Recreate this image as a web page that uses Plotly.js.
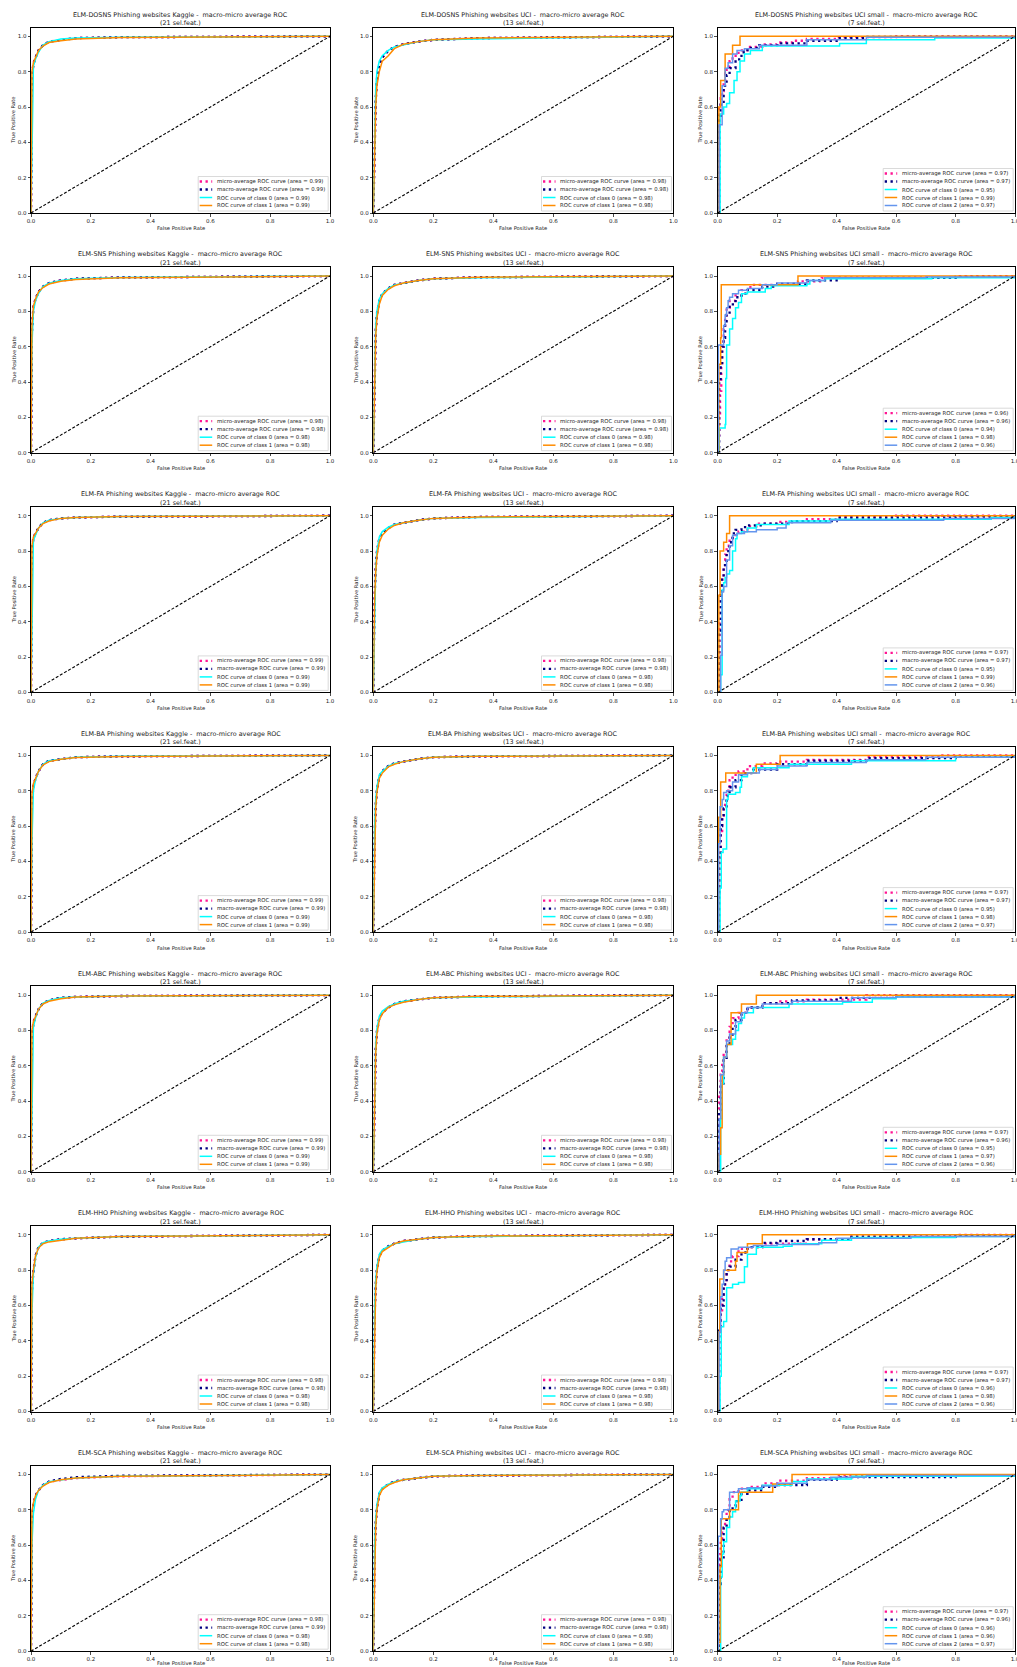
<!DOCTYPE html>
<html>
<head>
<meta charset="utf-8">
<script src="https://cdn.plot.ly/plotly-3.0.1.min.js"></script>
<style>html,body{margin:0;padding:0;background:#fff;}#chart{width:1017px;height:1667px;}</style>
</head>
<body>
<div id="chart"></div>
<script>
// ---------------- DATA ----------------
const methods = ['DOSNS', 'SNS', 'FA', 'BA', 'ABC', 'HHO', 'SCA'];
const datasets = ['Kaggle', 'UCI', 'UCI small'];
const selFeat = [21, 13, 7];
const curveNames = ['micro-average ROC curve', 'macro-average ROC curve', 'ROC curve of class 0', 'ROC curve of class 1', 'ROC curve of class 2'];
const tickVals = [0, 0.2, 0.4, 0.6, 0.8, 1.0];
const chanceLine = [0, 1];

// areas [micro, macro, class0, class1, (class2)]
const areaKaggle = [[0.99,0.99,0.99,0.99],[0.98,0.98,0.98,0.98],[0.99,0.99,0.99,0.99],[0.99,0.99,0.99,0.99],[0.99,0.99,0.99,0.99],[0.98,0.98,0.98,0.98],[0.98,0.99,0.98,0.98]];
const areaUCI = [[0.98,0.98,0.98,0.98],[0.98,0.98,0.98,0.98],[0.98,0.98,0.98,0.98],[0.98,0.98,0.98,0.98],[0.98,0.98,0.98,0.98],[0.98,0.98,0.98,0.98],[0.98,0.98,0.98,0.98]];
const areaSmall = [[0.97,0.97,0.95,0.99,0.97],[0.96,0.96,0.94,0.98,0.96],[0.97,0.97,0.95,0.99,0.96],[0.97,0.97,0.95,0.98,0.97],[0.97,0.96,0.95,0.97,0.96],[0.97,0.97,0.96,0.98,0.96],[0.97,0.96,0.96,0.96,0.97]];

// Kaggle (21 sel. feat.) – FPR points and TPR read at them [micro, macro, class0, class1]
const fprKaggle = [0, 0.003, 0.008, 0.015, 0.025, 0.04, 0.06, 0.1, 0.15, 0.3, 1];
const tprKaggleDOSNS = [[0,0.78,0.85,0.88,0.92,0.95,0.97,0.98,0.99,0.995,1],[0,0.76,0.84,0.88,0.92,0.95,0.97,0.98,0.99,0.995,1],[0,0.35,0.83,0.87,0.91,0.95,0.97,0.985,0.99,0.995,1],[0,0.8,0.85,0.88,0.92,0.945,0.965,0.975,0.985,0.993,1]];
const tprKaggleSNS = [[0,0.7,0.83,0.87,0.91,0.94,0.96,0.975,0.985,0.992,1],[0,0.68,0.82,0.87,0.91,0.94,0.96,0.975,0.985,0.992,1],[0,0.6,0.8,0.86,0.9,0.94,0.96,0.975,0.985,0.992,1],[0,0.72,0.83,0.87,0.91,0.935,0.955,0.97,0.98,0.99,1]];
const tprKaggleFA = [[0,0.82,0.88,0.9,0.93,0.96,0.975,0.985,0.99,0.995,1],[0,0.8,0.87,0.9,0.93,0.96,0.975,0.985,0.99,0.995,1],[0,0.4,0.86,0.89,0.93,0.96,0.975,0.985,0.99,0.995,1],[0,0.83,0.88,0.9,0.93,0.955,0.97,0.985,0.99,0.995,1]];
const tprKaggleBA = [[0,0.76,0.83,0.87,0.91,0.95,0.97,0.98,0.99,0.995,1],[0,0.74,0.82,0.87,0.91,0.95,0.97,0.98,0.99,0.995,1],[0,0.5,0.8,0.86,0.91,0.95,0.97,0.98,0.99,0.995,1],[0,0.78,0.84,0.87,0.91,0.945,0.965,0.978,0.988,0.994,1]];
const tprKaggleABC = [[0,0.78,0.85,0.88,0.92,0.955,0.97,0.985,0.99,0.995,1],[0,0.76,0.84,0.88,0.92,0.955,0.97,0.985,0.99,0.995,1],[0,0.45,0.82,0.87,0.92,0.955,0.97,0.985,0.99,0.995,1],[0,0.8,0.85,0.88,0.92,0.95,0.965,0.98,0.99,0.995,1]];
const tprKaggleHHO = [[0,0.7,0.8,0.88,0.93,0.955,0.965,0.975,0.98,0.99,1],[0,0.68,0.79,0.88,0.93,0.955,0.965,0.975,0.98,0.99,1],[0,0.55,0.78,0.87,0.93,0.955,0.965,0.975,0.98,0.99,1],[0,0.72,0.8,0.88,0.925,0.95,0.96,0.97,0.98,0.99,1]];
const tprKaggleSCA = [[0,0.76,0.83,0.88,0.91,0.94,0.96,0.97,0.98,0.99,1],[0,0.74,0.82,0.88,0.91,0.94,0.96,0.975,0.985,0.993,1],[0,0.6,0.78,0.86,0.91,0.94,0.96,0.97,0.98,0.99,1],[0,0.79,0.84,0.88,0.91,0.935,0.955,0.97,0.98,0.99,1]];

// UCI (13 sel. feat.)
const fprUCI = [0, 0.004, 0.008, 0.012, 0.02, 0.03, 0.05, 0.07, 0.1, 0.15, 0.2, 0.35, 1];
const tprUciDOSNS = [[0,0.45,0.65,0.76,0.84,0.88,0.92,0.94,0.955,0.97,0.98,0.99,1],[0,0.42,0.63,0.75,0.84,0.88,0.92,0.94,0.955,0.97,0.98,0.99,1],[0,0.5,0.7,0.8,0.86,0.89,0.92,0.94,0.95,0.97,0.98,0.985,1],[0,0.4,0.6,0.72,0.8,0.86,0.89,0.93,0.955,0.97,0.98,0.99,1]];
const tprUciSNS = [[0,0.5,0.7,0.79,0.86,0.9,0.93,0.95,0.96,0.975,0.985,0.993,1],[0,0.48,0.68,0.78,0.86,0.9,0.93,0.95,0.96,0.975,0.985,0.993,1],[0,0.52,0.72,0.8,0.87,0.9,0.93,0.95,0.96,0.975,0.985,0.99,1],[0,0.45,0.66,0.76,0.84,0.89,0.925,0.945,0.96,0.975,0.985,0.993,1]];
const tprUciFA = [[0,0.55,0.72,0.8,0.87,0.9,0.93,0.95,0.96,0.975,0.985,0.993,1],[0,0.52,0.7,0.79,0.87,0.9,0.93,0.95,0.96,0.975,0.985,0.993,1],[0,0.45,0.7,0.8,0.88,0.91,0.935,0.95,0.96,0.975,0.985,0.99,1],[0,0.5,0.68,0.77,0.85,0.89,0.925,0.945,0.96,0.975,0.985,0.993,1]];
const tprUciBA = [[0,0.55,0.73,0.81,0.88,0.91,0.94,0.955,0.965,0.98,0.99,0.995,1],[0,0.52,0.71,0.8,0.88,0.91,0.94,0.955,0.965,0.98,0.99,0.995,1],[0,0.58,0.75,0.82,0.89,0.91,0.94,0.955,0.965,0.98,0.99,0.995,1],[0,0.5,0.7,0.79,0.87,0.9,0.935,0.95,0.965,0.98,0.99,0.995,1]];
const tprUciABC = [[0,0.5,0.7,0.8,0.87,0.9,0.93,0.95,0.965,0.975,0.985,0.993,1],[0,0.48,0.69,0.79,0.87,0.9,0.93,0.95,0.965,0.975,0.985,0.993,1],[0,0.52,0.72,0.81,0.88,0.91,0.935,0.95,0.965,0.975,0.985,0.99,1],[0,0.46,0.67,0.78,0.86,0.895,0.93,0.945,0.96,0.975,0.985,0.993,1]];
const tprUciHHO = [[0,0.55,0.72,0.81,0.88,0.91,0.935,0.95,0.965,0.975,0.985,0.993,1],[0,0.53,0.71,0.8,0.88,0.91,0.935,0.95,0.965,0.975,0.985,0.993,1],[0,0.56,0.74,0.82,0.89,0.915,0.935,0.95,0.96,0.975,0.985,0.99,1],[0,0.5,0.69,0.79,0.87,0.905,0.93,0.95,0.965,0.975,0.985,0.993,1]];
const tprUciSCA = [[0,0.55,0.73,0.82,0.89,0.92,0.945,0.96,0.97,0.98,0.99,0.995,1],[0,0.53,0.72,0.81,0.89,0.92,0.945,0.96,0.97,0.98,0.99,0.995,1],[0,0.57,0.75,0.83,0.9,0.925,0.945,0.96,0.97,0.98,0.99,0.995,1],[0,0.5,0.7,0.8,0.88,0.915,0.94,0.955,0.97,0.98,0.99,0.995,1]];

// UCI small (7 sel. feat.) – step ROC points [micro, macro, class0, class1, class2]
const fprSmallDOSNS = [[0,0.005,0.01,0.015,0.02,0.025,0.03,0.04,0.05,0.07,0.1,0.15,0.2,0.25,0.3,0.4,0.6,1],[0,0.005,0.01,0.02,0.03,0.04,0.06,0.08,0.1,0.14,0.2,0.3,0.4,0.5,1],[0,0.008,0.02,0.03,0.04,0.055,0.065,0.075,0.09,0.11,0.15,0.41,0.5,0.73,1],[0,0.004,0.01,0.025,0.05,0.075,1],[0,0.005,0.015,0.025,0.035,0.05,0.065,0.09,0.14,0.3,0.5,1]];
const tprSmallDOSNS = [[0,0.6,0.65,0.69,0.74,0.79,0.83,0.86,0.89,0.92,0.94,0.955,0.965,0.975,0.985,0.995,1,1],[0,0.55,0.62,0.72,0.78,0.82,0.87,0.91,0.935,0.95,0.96,0.975,0.99,0.997,1],[0,0.56,0.6,0.62,0.68,0.75,0.8,0.86,0.9,0.92,0.945,0.96,0.98,0.99,1],[0,0.6,0.75,0.9,0.95,1,1],[0,0.5,0.72,0.82,0.85,0.9,0.92,0.93,0.95,0.98,0.995,1]];
const fprSmallSNS = [[0,0.002,0.005,0.008,0.012,0.015,0.02,0.025,0.03,0.04,0.06,0.08,0.11,0.2,0.27,0.35,0.8,1],[0,0.005,0.01,0.015,0.02,0.025,0.03,0.04,0.06,0.08,0.1,0.15,0.2,0.3,0.4,0.8,1],[0,0.005,0.025,0.027,0.03,0.04,0.05,0.06,0.07,0.08,0.1,0.16,0.18,0.3,0.31,0.36,0.72,1],[0,0.004,0.01,0.012,0.27,1],[0,0.002,0.02,0.025,0.03,0.035,0.04,0.05,0.07,0.1,0.15,0.2,0.3,0.36,0.7,1]];
const tprSmallSNS = [[0,0.1,0.2,0.35,0.5,0.6,0.7,0.77,0.82,0.86,0.89,0.92,0.95,0.955,0.97,0.99,1,1],[0,0.4,0.5,0.6,0.65,0.72,0.78,0.84,0.88,0.9,0.92,0.94,0.955,0.975,0.99,0.995,1],[0,0.14,0.16,0.42,0.61,0.7,0.76,0.82,0.85,0.9,0.91,0.93,0.945,0.955,0.975,0.985,0.99,1],[0,0.5,0.65,0.95,1,1],[0,0.61,0.72,0.78,0.82,0.86,0.88,0.9,0.92,0.93,0.95,0.96,0.975,0.99,0.995,1]];
const fprSmallFA = [[0,0.003,0.006,0.01,0.015,0.02,0.025,0.03,0.04,0.05,0.07,0.1,0.13,0.2,0.3,0.4,0.6,1],[0,0.005,0.01,0.015,0.02,0.03,0.04,0.05,0.06,0.08,0.1,0.15,0.25,0.4,0.8,1],[0,0.01,0.015,0.02,0.025,0.03,0.04,0.05,0.06,0.065,0.08,0.1,0.13,0.24,0.38,0.92,1],[0,0.004,0.008,0.02,0.03,0.04,1],[0,0.01,0.015,0.02,0.03,0.04,0.05,0.065,0.09,0.13,0.2,0.23,0.38,0.76,1]];
const tprSmallFA = [[0,0.2,0.4,0.55,0.65,0.72,0.78,0.83,0.87,0.89,0.91,0.94,0.955,0.965,0.98,0.99,1,1],[0,0.35,0.55,0.65,0.72,0.8,0.85,0.9,0.92,0.935,0.945,0.955,0.97,0.99,0.995,1],[0,0.1,0.58,0.62,0.65,0.67,0.69,0.8,0.87,0.9,0.91,0.93,0.95,0.97,0.98,0.99,1],[0,0.55,0.8,0.85,0.9,1,1],[0,0.21,0.57,0.6,0.75,0.83,0.89,0.9,0.91,0.92,0.93,0.96,0.975,0.985,1]];
const fprSmallBA = [[0,0.003,0.006,0.01,0.015,0.02,0.03,0.04,0.05,0.07,0.1,0.15,0.2,0.3,0.5,0.75,1],[0,0.005,0.01,0.015,0.02,0.03,0.04,0.06,0.08,0.12,0.2,0.3,0.5,0.8,1],[0,0.008,0.012,0.018,0.03,0.035,0.06,0.075,0.08,0.1,0.12,0.24,0.45,0.8,1],[0,0.003,0.01,0.027,0.13,0.21,1],[0,0.003,0.008,0.015,0.02,0.03,0.05,0.07,0.1,0.14,0.2,0.3,0.5,0.7,1]];
const tprSmallBA = [[0,0.22,0.42,0.56,0.66,0.72,0.8,0.86,0.89,0.91,0.94,0.955,0.965,0.975,0.99,1,1],[0,0.45,0.6,0.65,0.7,0.77,0.82,0.86,0.9,0.92,0.95,0.97,0.985,0.995,1],[0,0.25,0.45,0.47,0.75,0.78,0.79,0.82,0.88,0.9,0.93,0.95,0.97,0.99,1],[0,0.65,0.85,0.9,0.95,1,1],[0,0.5,0.71,0.75,0.79,0.8,0.85,0.89,0.9,0.92,0.94,0.96,0.975,0.99,1]];
const fprSmallABC = [[0,0.002,0.005,0.01,0.015,0.02,0.03,0.04,0.05,0.07,0.1,0.15,0.2,0.3,0.5,1],[0,0.005,0.01,0.02,0.03,0.04,0.05,0.06,0.08,0.1,0.15,0.25,0.4,0.6,1],[0,0.01,0.015,0.02,0.03,0.05,0.06,0.07,0.08,0.09,0.12,0.24,0.42,0.52,0.6,1],[0,0.004,0.01,0.015,0.02,0.03,0.045,0.08,0.13,1],[0,0.005,0.01,0.02,0.03,0.04,0.06,0.08,0.1,0.15,0.25,0.45,0.6,1]];
const tprSmallABC = [[0,0.3,0.45,0.55,0.62,0.68,0.76,0.82,0.87,0.9,0.93,0.955,0.965,0.975,1,1],[0,0.35,0.5,0.63,0.72,0.76,0.82,0.86,0.9,0.93,0.955,0.97,0.985,0.995,1],[0,0.3,0.5,0.65,0.72,0.75,0.8,0.84,0.87,0.9,0.93,0.95,0.96,0.98,0.99,1],[0,0.1,0.25,0.55,0.65,0.72,0.9,0.95,1,1],[0,0.3,0.55,0.65,0.74,0.78,0.85,0.9,0.93,0.95,0.965,0.985,0.99,1]];
const fprSmallHHO = [[0,0.002,0.005,0.01,0.015,0.02,0.03,0.04,0.05,0.07,0.1,0.15,0.3,0.45,0.8,1],[0,0.005,0.01,0.02,0.03,0.04,0.06,0.08,0.1,0.15,0.2,0.3,0.45,0.8,1],[0,0.008,0.012,0.02,0.03,0.05,0.07,0.09,0.1,0.13,0.22,0.25,0.35,0.45,0.8,1],[0,0.003,0.007,0.02,0.06,0.065,0.1,0.15,1],[0,0.005,0.01,0.015,0.02,0.025,0.03,0.045,0.07,0.12,0.2,0.34,0.4,0.65,1]];
const tprSmallHHO = [[0,0.3,0.45,0.56,0.65,0.72,0.8,0.85,0.88,0.92,0.93,0.95,0.975,0.99,1,1],[0,0.48,0.6,0.72,0.8,0.82,0.86,0.9,0.93,0.955,0.965,0.975,0.99,0.995,1],[0,0.2,0.48,0.51,0.7,0.72,0.73,0.82,0.89,0.93,0.935,0.95,0.97,0.985,0.99,1],[0,0.45,0.75,0.8,0.85,0.9,0.95,1,1],[0,0.45,0.65,0.72,0.8,0.85,0.87,0.92,0.93,0.94,0.945,0.955,0.98,0.99,1]];
const fprSmallSCA = [[0,0.002,0.005,0.01,0.015,0.02,0.03,0.04,0.05,0.07,0.1,0.15,0.2,0.3,0.4,1],[0,0.005,0.01,0.02,0.03,0.04,0.05,0.06,0.08,0.1,0.15,0.2,0.3,0.4,0.8,1],[0,0.01,0.015,0.02,0.03,0.04,0.05,0.06,0.075,0.08,0.1,0.15,0.25,0.3,0.45,1],[0,0.003,0.008,0.012,0.04,0.07,0.185,0.25,1],[0,0.002,0.01,0.015,0.02,0.04,0.07,0.1,0.15,0.2,0.3,0.38,0.5,1]];
const tprSmallSCA = [[0,0.4,0.55,0.62,0.68,0.72,0.8,0.86,0.9,0.92,0.93,0.95,0.965,0.98,0.995,1],[0,0.38,0.52,0.7,0.76,0.8,0.82,0.85,0.89,0.91,0.93,0.94,0.97,0.985,0.995,1],[0,0.42,0.55,0.62,0.7,0.76,0.79,0.85,0.88,0.9,0.92,0.94,0.96,0.975,0.99,1],[0,0.05,0.48,0.75,0.8,0.9,0.947,1,1],[0,0.65,0.75,0.79,0.8,0.9,0.92,0.925,0.935,0.95,0.97,0.985,0.995,1]];

const tprKaggle = [tprKaggleDOSNS, tprKaggleSNS, tprKaggleFA, tprKaggleBA, tprKaggleABC, tprKaggleHHO, tprKaggleSCA];
const tprUci = [tprUciDOSNS, tprUciSNS, tprUciFA, tprUciBA, tprUciABC, tprUciHHO, tprUciSCA];
const fprSmall = [fprSmallDOSNS, fprSmallSNS, fprSmallFA, fprSmallBA, fprSmallABC, fprSmallHHO, fprSmallSCA];
const tprSmall = [tprSmallDOSNS, tprSmallSNS, tprSmallFA, tprSmallBA, tprSmallABC, tprSmallHHO, tprSmallSCA];
const areas = [areaKaggle, areaUCI, areaSmall];

// ---------------- LAYOUT / STYLE ----------------
const W = 1017, H = 1667;
const colLeft = [31, 373.3, 717.7], colRight = [330, 673.3, 1015];
const rowTop0 = 27.5, rowBottom0 = 213, rowPitch = 239.7;
const px = x => x / W, py = y => 1 - y / H;
const FONT = 'DejaVu Sans, Liberation Sans, sans-serif';
const TXT = '#1a1a1a';

const styles = [
  {color: '#FF1493', width: 2.3, dash: '2.3px,3.5px'},
  {color: '#000080', width: 2.3, dash: '2.3px,3.5px'},
  {color: '#00FFFF', width: 1.5, dash: 'solid'},
  {color: '#FF8C00', width: 1.5, dash: 'solid'},
  {color: '#6495ED', width: 1.5, dash: 'solid'}
];

const traces = [], annotations = [], shapes = [];
const layout = {
  width: W, height: H, margin: {l: 0, r: 0, t: 0, b: 0},
  paper_bgcolor: '#ffffff', plot_bgcolor: '#ffffff', showlegend: false,
  font: {family: FONT, color: TXT}
};

methods.forEach((m, r) => {
  datasets.forEach((d, c) => {
    const k = r * 3 + c + 1;
    const sfx = k === 1 ? '' : String(k);
    const L = colLeft[c], R = colRight[c];
    const T = rowTop0 + r * rowPitch, B = rowBottom0 + r * rowPitch;
    const axBase = {
      showgrid: false, zeroline: false, showline: true, mirror: true,
      linecolor: '#000', linewidth: 1, ticks: 'outside', ticklen: 2.5, tickwidth: 0.7, tickcolor: '#000',
      tickvals: tickVals, tickformat: '.1f', tickfont: {size: 5.5, family: FONT, color: TXT},
      ticklabeloverflow: 'allow', fixedrange: true
    };
    layout['xaxis' + sfx] = Object.assign({}, axBase, {domain: [px(L), px(R)], range: [0, 1], anchor: 'y' + sfx});
    layout['yaxis' + sfx] = Object.assign({}, axBase, {domain: [py(B), py(T)], range: [0, 1.05], anchor: 'x' + sfx});

    const nCurves = c === 2 ? 5 : 4;
    for (let i = 0; i < nCurves; i++) {
      let xs, ys;
      if (c === 0) { xs = fprKaggle; ys = tprKaggle[r][i]; }
      else if (c === 1) { xs = fprUCI; ys = tprUci[r][i]; }
      else { xs = fprSmall[r][i]; ys = tprSmall[r][i]; }
      traces.push({
        type: 'scatter', mode: 'lines', x: xs, y: ys, xaxis: 'x' + sfx, yaxis: 'y' + sfx,
        line: {color: styles[i].color, width: styles[i].width, dash: styles[i].dash, shape: c === 2 ? 'hv' : 'linear'},
        hoverinfo: 'skip'
      });
    }
    traces.push({
      type: 'scatter', mode: 'lines', x: chanceLine, y: chanceLine, xaxis: 'x' + sfx, yaxis: 'y' + sfx,
      line: {color: '#000', width: 1.1, dash: '3px,1.8px'}, hoverinfo: 'skip'
    });

    const cx = (L + R) / 2;
    // titles
    annotations.push({xref: 'paper', yref: 'paper', x: px(cx), y: py(14.7 + r * rowPitch), xanchor: 'center', yanchor: 'middle',
      text: 'ELM-' + m + ' Phishing websites ' + d + ' -  macro-micro average ROC', showarrow: false, font: {size: 6.4, family: FONT, color: TXT}});
    annotations.push({xref: 'paper', yref: 'paper', x: px(cx), y: py(23.3 + r * rowPitch), xanchor: 'center', yanchor: 'middle',
      text: '(' + selFeat[c] + ' sel.feat.)', showarrow: false, font: {size: 6.4, family: FONT, color: TXT}});
    // axis labels
    const xlabY = Math.min(B + 15.5, H - 4.5);
    annotations.push({xref: 'paper', yref: 'paper', x: px(cx), y: py(xlabY), xanchor: 'center', yanchor: 'middle',
      text: 'False Positive Rate', showarrow: false, font: {size: 5.2, family: FONT, color: TXT}});
    annotations.push({xref: 'paper', yref: 'paper', x: px(L - 17.5), y: py((T + B) / 2), xanchor: 'center', yanchor: 'middle',
      text: 'True Positive Rate', textangle: -90, showarrow: false, font: {size: 5.2, family: FONT, color: TXT}});

    // legend box
    const boxR = R - 1.8, boxB = B - 2, boxW = 130, boxH = 8 * nCurves + 2.5;
    const boxL = boxR - boxW, boxT = boxB - boxH;
    shapes.push({type: 'rect', xref: 'paper', yref: 'paper', x0: px(boxL), x1: px(boxR), y0: py(boxB), y1: py(boxT),
      fillcolor: 'rgba(255,255,255,0.85)', line: {color: '#d0d0d0', width: 0.8}, layer: 'above'});
    for (let i = 0; i < nCurves; i++) {
      const ey = boxT + 5 + 8 * i;
      shapes.push({type: 'line', xref: 'paper', yref: 'paper', x0: px(boxL + 1.5), x1: px(boxL + 14), y0: py(ey), y1: py(ey),
        line: {color: styles[i].color, width: styles[i].width, dash: styles[i].dash}, layer: 'above'});
      annotations.push({xref: 'paper', yref: 'paper', x: px(boxL + 16.5), y: py(ey), xanchor: 'left', yanchor: 'middle',
        text: curveNames[i] + ' (area = ' + areas[c][r][i].toFixed(2) + ')', showarrow: false,
        font: {size: 5.35, family: FONT, color: TXT}});
    }
  });
});

layout.annotations = annotations;
layout.shapes = shapes;
Plotly.newPlot('chart', traces, layout, {staticPlot: true, displayModeBar: false});
</script>
</body>
</html>
